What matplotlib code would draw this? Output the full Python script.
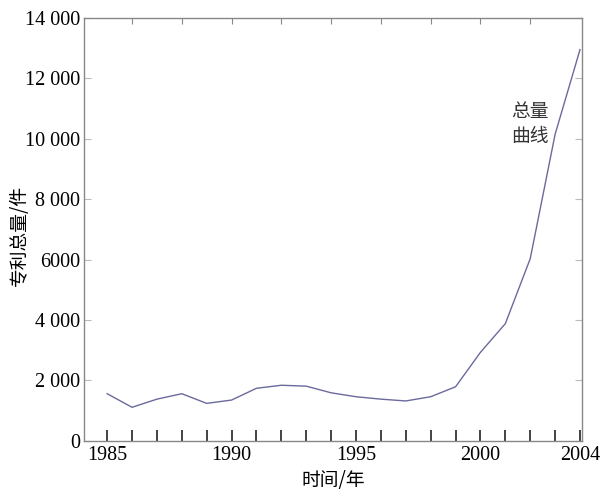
import matplotlib
matplotlib.use("Agg")
import matplotlib.pyplot as plt

# 专利总量数据
years = [1985, 1986, 1987, 1988, 1989, 1990, 1991, 1992, 1993, 1994,
         1995, 1996, 1997, 1998, 1999, 2000, 2001, 2002, 2003, 2004]
totals = [1560, 1110, 1380, 1560, 1240, 1350, 1740, 1840, 1810, 1590,
          1460, 1380, 1320, 1460, 1790, 2930, 3880, 6030, 10150, 12950]

xtick_labels = {1985: "1985", 1990: "1990", 1995: "1995", 2000: "2000", 2004: "2004"}
ytick_values = [0, 2000, 4000, 6000, 8000, 10000, 12000, 14000]
ytick_labels = ["0", "2 000", "4 000", "6000", "8 000", "10 000", "12 000", "14 000"]
top_ticks = [1986, 1988, 1990, 1992, 1994, 1996, 1998, 2000, 2002]

num_font = "Liberation Serif"
cjk_font = ["Noto Sans CJK SC", "DejaVu Sans"]

fig = plt.figure(figsize=(6.0, 4.97), dpi=100)
ax = fig.add_axes([0.14, 0.113, 0.830, 0.851])

ax.plot(years, totals, color="#6a6a9c", linewidth=1.0)

ax.set_xlim(1984.07, 2004.08)
ax.set_ylim(0, 14000)

# 底部刻度: 每年一个, 只标注部分年份
ax.set_xticks(years)
ax.set_xticklabels([xtick_labels.get(y, "") for y in years],
                   fontfamily=num_font, fontsize=14.5)
ax.tick_params(axis="x", direction="in", length=8, width=1.2,
               color="#222222", pad=4)

ax.set_yticks(ytick_values)
ax.set_yticklabels(ytick_labels, fontfamily=num_font, fontsize=14.5)
ax.tick_params(axis="y", direction="in", length=5, width=0.8,
               color="#bbbbbb", left=True, right=True, pad=3)

# 顶部刻度
top = ax.secondary_xaxis("top")
top.set_xticks(top_ticks)
top.set_xticklabels([])
top.tick_params(direction="in", length=4, width=0.8, color="#888888")
top.spines["top"].set_visible(False)

for s in ax.spines.values():
    s.set_color("#888888")
    s.set_linewidth(1.0)

ax.text(2002.0, 10500, "总量\n曲线", fontfamily=cjk_font, fontsize=13.5,
        color="#333333", ha="center", va="center", linespacing=1.25)

ax.set_xlabel("时间/年", fontfamily=cjk_font, fontsize=13.5, labelpad=3)
fig.text(19 / 600, 1 - 235 / 497, "专利总量/件", fontfamily=cjk_font,
         fontsize=13.5, rotation=90, ha="center", va="center")

fig.savefig("out.png", dpi=100)
